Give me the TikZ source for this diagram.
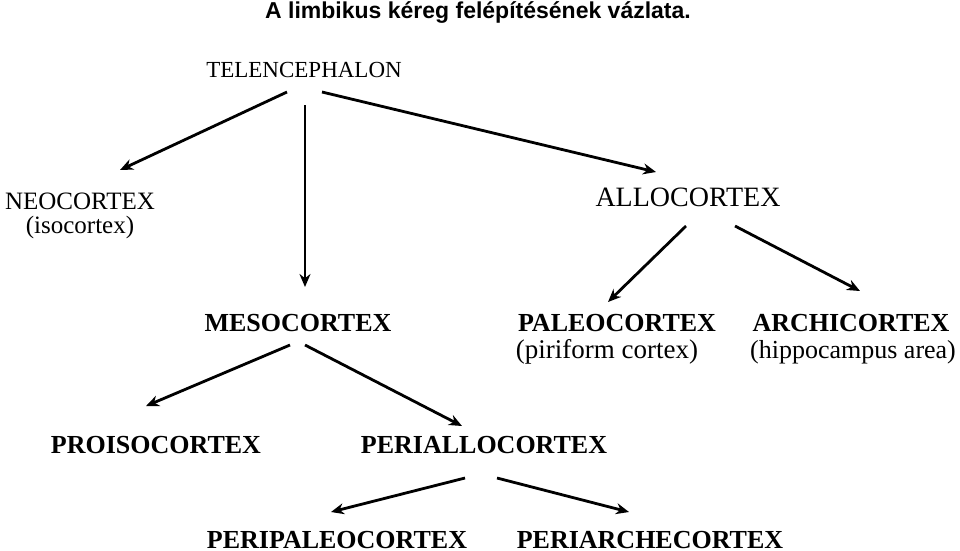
\documentclass[tikz,border=0pt]{standalone}
\usepackage{fontspec}
\setmainfont{Liberation Serif}
\newfontfamily\titlefont{Liberation Sans}
\usetikzlibrary{arrows.meta}
\begin{document}
\begin{tikzpicture}[x=1pt,y=-1pt,
  lbl/.style={inner sep=0pt,font=\fontsize{23}{26}\selectfont,align=center},
  blbl/.style={lbl,font=\fontsize{26}{28}\selectfont\bfseries},
  arr/.style={line width=2.8pt,-{Stealth[length=13pt,width=11pt]}}]
\useasboundingbox (0,0) rectangle (960,550);
\node[inner sep=0pt,font=\titlefont\fontsize{23}{26}\selectfont\bfseries] (title) at (478,12) {A limbikus kéreg felépítésének vázlata.};
\node[lbl] (tel) at (304,70) {TELENCEPHALON};
\node[lbl,font=\fontsize{25}{24}\selectfont] (neo) at (80,216) {NEOCORTEX\\(isocortex)};
\node[lbl,font=\fontsize{28}{28}\selectfont] (allo) at (688,197) {ALLOCORTEX};
\node[blbl] (meso) at (298,323) {MESOCORTEX};
\node[blbl] (paleo) at (617,323) {PALEOCORTEX};
\node[lbl,font=\fontsize{27}{28}\selectfont] (pir) at (607,352) {(piriform cortex)};
\node[blbl] (archi) at (851,323) {ARCHICORTEX};
\node[lbl,font=\fontsize{26}{28}\selectfont] (hip) at (853,352) {(hippocampus area)};
\node[blbl] (pro) at (156,445) {PROISOCORTEX};
\node[blbl] (peria) at (484,445) {PERIALLOCORTEX};
\node[blbl] (perip) at (337,540) {PERIPALEOCORTEX};
\node[blbl] (periar) at (650,540) {PERIARCHECORTEX};
\coordinate (a1) at (287,92); \coordinate (b1) at (120,170);
\coordinate (a2) at (305,105); \coordinate (b2) at (305,287);
\coordinate (a3) at (322,92); \coordinate (b3) at (656,172);
\coordinate (a4) at (686,226); \coordinate (b4) at (608,302);
\coordinate (a5) at (735,226); \coordinate (b5) at (860,291);
\coordinate (a6) at (290,345); \coordinate (b6) at (146,406);
\coordinate (a7) at (305,345); \coordinate (b7) at (462,426);
\coordinate (a8) at (465,478); \coordinate (b8) at (331,512);
\coordinate (a9) at (497,478); \coordinate (b9) at (629,512);
\foreach \i in {1,...,9} \draw[arr] (a\i) -- (b\i);
\end{tikzpicture}
\end{document}
